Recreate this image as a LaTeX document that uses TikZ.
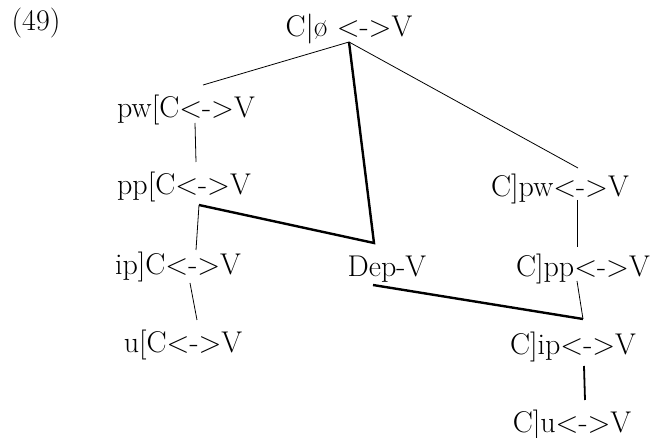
\documentclass[tikz,border=0pt]{standalone}
\usepackage{fontspec}
\begin{document}
\begin{tikzpicture}[x=1pt,y=-1pt,
  lbl/.style={inner sep=0pt,anchor=base,font=\fontsize{30}{36}\selectfont},
  thin/.style={line width=0.8pt},
  thick/.style={line width=2.4pt,line join=miter}]
\useasboundingbox (0,0) rectangle (657,438);
\node[lbl] (n49) at (36,31) {(49)};
\node[lbl] (top) at (349,37) {C|ø <->V};
\node[lbl] (pw) at (186,118) {pw[C<->V};
\node[lbl] (pp) at (184,195) {pp[C<->V};
\node[lbl] (ip) at (178,275) {ip]C<->V};
\node[lbl] (u) at (183,353) {u[C<->V};
\node[lbl] (dep) at (387,277) {Dep-V};
\node[lbl] (cpw) at (560,197) {C]pw<->V};
\node[lbl] (cpp) at (583,277) {C]pp<->V};
\node[lbl] (cip) at (573,355) {C]ip<->V};
\node[lbl] (cu) at (572,433) {C]u<->V};
% connection points
\coordinate (topS) at (349,42);
\coordinate (pwN) at (203,85);
\coordinate (pwS) at (195,123);
\coordinate (ppN) at (196,162);
\coordinate (ppS) at (199,205);
\coordinate (ipN) at (196,250);
\coordinate (ipS) at (190,283);
\coordinate (uN) at (197,320);
\coordinate (depN) at (374,243);
\coordinate (depS) at (373,285);
\coordinate (cpwN) at (578,168);
\coordinate (cpwS) at (577,200);
\coordinate (cppN) at (577,247);
\coordinate (cppS) at (577,281);
\coordinate (cipN) at (583,319);
\coordinate (cipS) at (584,366);
\coordinate (cuN) at (585,400);
% thin lines
\draw[thin] (topS) -- (pwN);
\draw[thin] (pwS) -- (ppN);
\draw[thin] (ppS) -- (ipN);
\draw[thin] (ipS) -- (uN);
\draw[thin] (topS) -- (cpwN);
\draw[thin] (cpwS) -- (cppN);
\draw[thin] (cppS) -- (cipN);
% thick lines
\draw[thick] (topS) -- (depN) -- (ppS);
\draw[thick] (depS) -- (cipN);
\draw[line width=1.8pt] (cipS) -- (cuN);
\end{tikzpicture}
\end{document}
